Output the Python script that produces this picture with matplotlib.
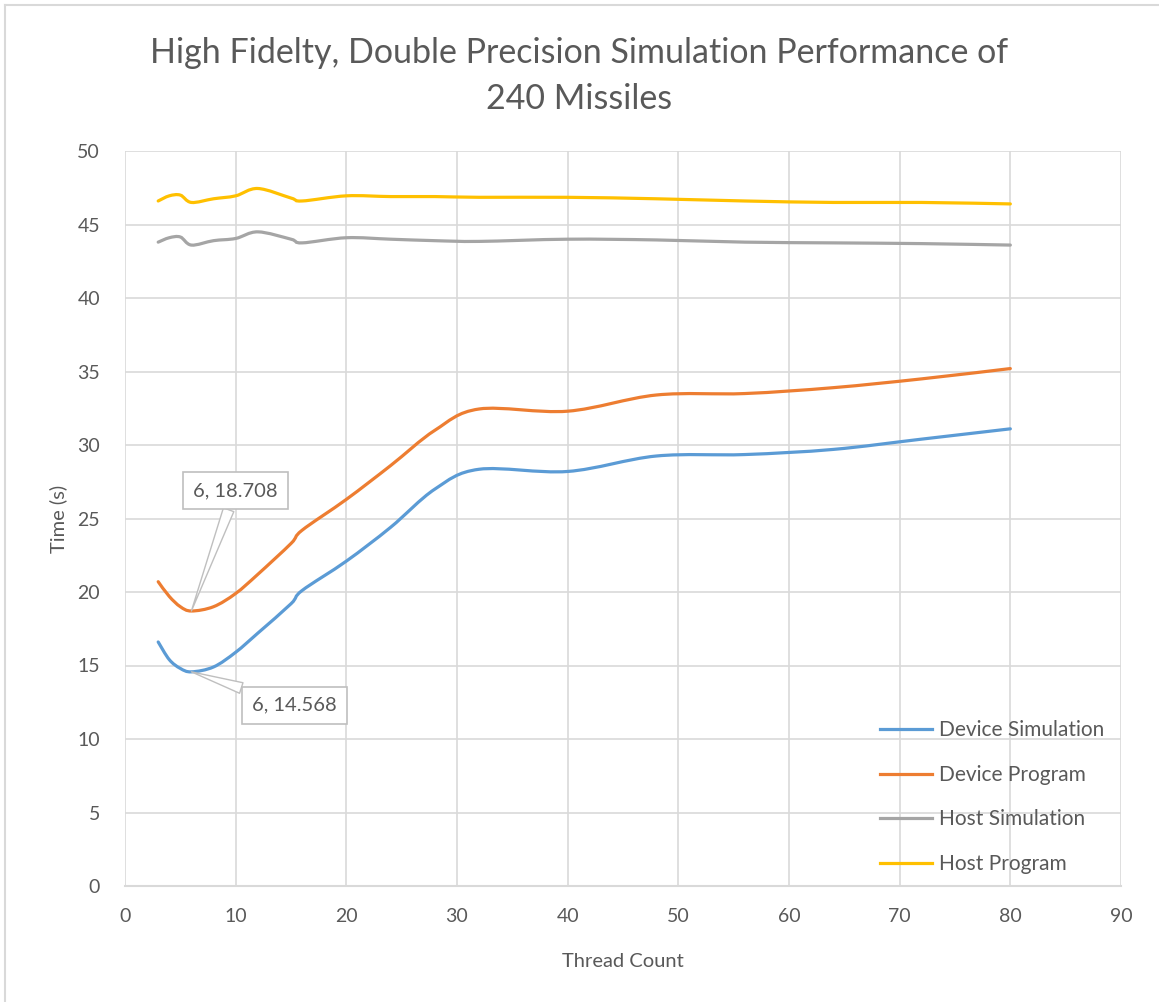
import numpy as np
import matplotlib
matplotlib.use("Agg")
import matplotlib.pyplot as plt
from matplotlib.path import Path
from matplotlib.patches import PathPatch
from matplotlib.lines import Line2D

plt.rcParams["font.family"] = ["Lato", "DejaVu Sans"]

# thread counts and timings (s)
threads = [3, 4, 5, 6, 8, 10, 12, 15, 16, 20, 24, 28, 32,
           40, 48, 56, 64, 72, 80]
device_sim = [16.6, 15.4, 14.8, 14.568, 14.9, 15.9, 17.2, 19.2, 20.1,
              22.1, 24.4, 27.0, 28.35, 28.2, 29.25, 29.35, 29.7, 30.4, 31.1]
device_prog = [20.7, 19.7, 19.0, 18.708, 19.0, 19.9, 21.2, 23.3, 24.2,
               26.3, 28.6, 31.0, 32.45, 32.3, 33.4, 33.5, 33.9, 34.5, 35.2]
host_sim = [43.8, 44.1, 44.15, 43.6, 43.9, 44.05, 44.5, 44.0, 43.75,
            44.1, 44.0, 43.9, 43.85, 44.0, 43.95, 43.8, 43.75, 43.7, 43.6]
host_prog = [46.6, 46.95, 47.0, 46.5, 46.75, 46.95, 47.45, 46.8, 46.6,
             46.95, 46.9, 46.9, 46.85, 46.85, 46.75, 46.6, 46.5, 46.5, 46.4]

series = [
    ("Device Simulation", device_sim, "#5B9BD5"),
    ("Device Program", device_prog, "#ED7D31"),
    ("Host Simulation", host_sim, "#A5A5A5"),
    ("Host Program", host_prog, "#FFC000"),
]

callouts = [(6, 18.708, (10.0, 26.9)), (6, 14.568, (15.3, 12.3))]

text_col = "#595959"
grid_col = "#D9D9D9"


def smooth_path(x, y):
    # Catmull-Rom style cubic Bezier through every point
    p = np.column_stack([x, y]).astype(float)
    n = len(p)
    verts = [p[0]]
    codes = [Path.MOVETO]
    for i in range(n - 1):
        p0 = p[max(i - 1, 0)]
        p1 = p[i]
        p2 = p[i + 1]
        p3 = p[min(i + 2, n - 1)]
        c1 = p1 + (p2 - p0) / 6.0
        c2 = p2 - (p3 - p1) / 6.0
        verts += [c1, c2, p2]
        codes += [Path.CURVE4] * 3
    return Path(verts, codes)


fig = plt.figure(figsize=(11.59, 10.02), dpi=100)
ax = fig.add_axes([125 / 1159, 116 / 1002, 996 / 1159, 735 / 1002])

for label, vals, col in series:
    ax.add_patch(PathPatch(smooth_path(threads, vals), facecolor="none",
                           edgecolor=col, lw=2.3, capstyle="round", zorder=3))
    ax.plot([], [], color=col, lw=2.3, label=label)

ax.set_xlim(0, 90)
ax.set_ylim(0, 50)
ax.set_xticks(np.arange(0, 91, 10))
ax.set_yticks(np.arange(0, 51, 5))
ax.grid(True, color=grid_col, lw=1.2, zorder=0)
ax.set_axisbelow(True)
for s in ["top", "right", "left"]:
    ax.spines[s].set_visible(False)
ax.spines["bottom"].set_color(grid_col)
ax.spines["bottom"].set_linewidth(1.5)
ax.tick_params(axis="both", length=0, labelsize=14, labelcolor=text_col)
ax.tick_params(axis="x", pad=16)
ax.tick_params(axis="y", pad=18)

ax.set_xlabel("Thread Count", fontsize=14.5, color=text_col, labelpad=20)
ax.set_ylabel("Time (s)", fontsize=14.5, color=text_col, labelpad=7)

fig.text(0.5, 1 - 76 / 1002, "High Fidelty, Double Precision Simulation Performance of\n240 Missiles",
         ha="center", va="center", fontsize=24.5, color=text_col, linespacing=1.55)

for xv, yv, (tx, ty) in callouts:
    ax.annotate(f"{xv}, {yv}", xy=(xv, yv), xytext=(tx, ty),
                ha="center", va="center", fontsize=14.5, color=text_col, zorder=5,
                bbox=dict(boxstyle="square,pad=0.5", fc="white", ec="#BFBFBF", lw=1.2),
                arrowprops=dict(arrowstyle="wedge,tail_width=0.55,shrink_factor=0.5",
                                fc="white", ec="#BFBFBF", lw=1.0, shrinkA=0, shrinkB=0))

leg = ax.legend(loc="lower left", bbox_to_anchor=(747 / 996, 0.005), frameon=False,
                fontsize=15, handlelength=2.5, handletextpad=0.3,
                labelspacing=1.18, borderaxespad=0)
for t in leg.get_texts():
    t.set_color(text_col)

# outer chart frame
fig.add_artist(Line2D([5 / 1159, 1.0], [1 - 5 / 1002] * 2, color=grid_col, lw=1.5))
fig.add_artist(Line2D([5 / 1159] * 2, [0.0, 1 - 5 / 1002], color=grid_col, lw=1.5))

fig.savefig("out.png", dpi=100)
